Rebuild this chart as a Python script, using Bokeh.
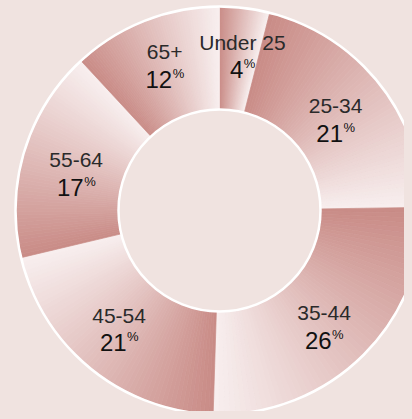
import numpy as np
from bokeh.plotting import figure
from bokeh.models import ColumnDataSource, GlobalInlineStyleSheet
from bokeh.core.properties import value
from bokeh.embed import file_html
from bokeh.resources import INLINE

# ---- data ----
categories = ["Under 25", "25-34", "35-44", "45-54", "55-64", "65+"]
shares = [4, 21, 26, 21, 17, 12]
pct_labels = ["4", "21", "26", "21", "17", "12"]

# ---- style ----
BG = "#f0e3e0"
DARK = np.array([201, 139, 134])
LIGHT = np.array([248, 239, 239])
FONT = "Liberation Sans"
R_IN, R_OUT = 101, 203
N_STEPS = 60
label_radius = [164, 152, 151, 150, 150, 162]       # label placement per slice
label_nudge_deg = [0.9, -1.9, 0.7, 2.8, 0.2, 1.6]   # small angular nudges

W, H = 404, 411
CX, CY = 219, 210   # centre of the donut inside the figure (pixels from left/top)

p = figure(width=W, height=H, x_range=(-CX, W - CX), y_range=(-(H - CY), CY),
           output_backend="svg", toolbar_location=None, min_border=0,
           x_axis_location=None, y_axis_location=None)
p.grid.visible = False
p.outline_line_color = None
p.background_fill_color = BG
p.border_fill_color = BG
p.stylesheets = [GlobalInlineStyleSheet(css="html, body { background: %s; }" % BG)]

vals = np.array(shares, dtype=float)
fr = vals / vals.sum()
ends = np.cumsum(fr) * 2 * np.pi
starts = ends - fr * 2 * np.pi

# gradient wedges (clockwise from 12 o'clock, dark at start -> light at end)
xs, ys, sa, ea, cols = [], [], [], [], []
for a0, a1 in zip(starts, ends):
    span = a1 - a0
    for k in range(N_STEPS):
        b0 = a0 + span * k / N_STEPS
        b1 = a0 + span * (k + 1) / N_STEPS
        t = (k + 0.5) / N_STEPS
        c = DARK + (LIGHT - DARK) * t
        sa.append(np.pi / 2 - b0)
        ea.append(np.pi / 2 - b1)
        cols.append("#%02x%02x%02x" % tuple(int(round(v)) for v in c))
        xs.append(0)
        ys.append(0)
wsrc = ColumnDataSource(dict(x=xs, y=ys, sa=sa, ea=ea, c=cols))
p.annular_wedge(x="x", y="y", inner_radius=R_IN, outer_radius=R_OUT,
                start_angle="sa", end_angle="ea", direction="clock",
                fill_color="c", line_color="c", line_width=0.7, source=wsrc)

# white rims
p.circle(x=[0], y=[0], radius=R_OUT + 1, fill_color=None, line_color="white", line_width=2.5)
p.circle(x=[0], y=[0], radius=R_IN, fill_color=BG, line_color="white", line_width=2.5)

# labels
mids = (starts + ends) / 2 + np.radians(label_nudge_deg)
rl = np.array(label_radius, dtype=float)
gx = rl * np.sin(mids)
gy = rl * np.cos(mids)
ndig = np.array([len(s) for s in pct_labels])
off = (ndig * 13.3 + 11.6) / 2 - 11.6

lsrc = ColumnDataSource(dict(
    x=gx, ly=gy + 6, ny=gy - 21, py=gy - 15,
    nx=gx + off, px=gx + off + 0.5,
    lab=categories, num=pct_labels, pc=["%"] * len(categories)))

p.text(x="x", y="ly", text="lab", source=lsrc, text_align="center",
       text_baseline="alphabetic", text_font=value(FONT), text_font_size="21px",
       text_color="#2a2a2a")
p.text(x="nx", y="ny", text="num", source=lsrc, text_align="right",
       text_baseline="alphabetic", text_font=value(FONT), text_font_size="24px",
       text_color="#111111")
p.text(x="px", y="py", text="pc", source=lsrc, text_align="left",
       text_baseline="alphabetic", text_font=value(FONT), text_font_size="13px",
       text_color="#111111")

open("out.html", "w").write(file_html(p, INLINE))
